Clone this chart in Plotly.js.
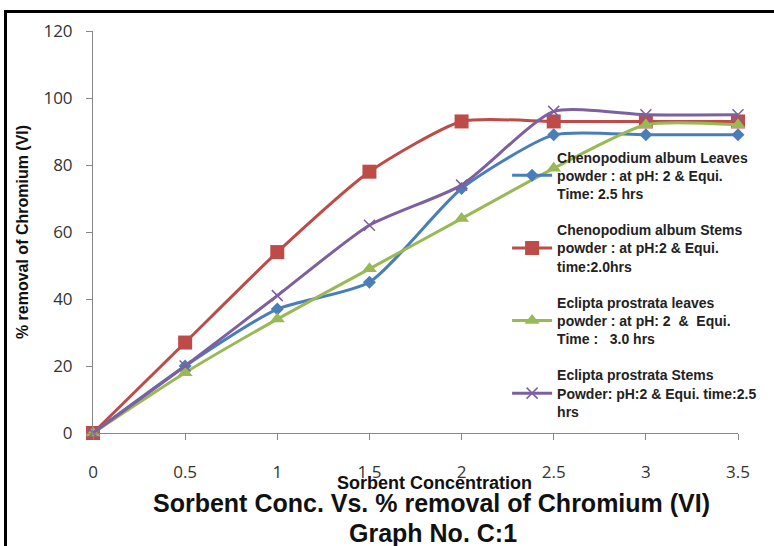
<!DOCTYPE html>
<html><head><meta charset="utf-8">
<script src="https://cdn.plot.ly/plotly-3.0.1.min.js"></script>
<style>
html,body{margin:0;padding:0;background:#fff;}
#chart{width:774px;height:546px;position:relative;}
#frame{position:absolute;left:4px;top:10px;width:820px;height:600px;border:3px solid #000;pointer-events:none;box-sizing:border-box;}
</style></head>
<body>
<div id="chart"></div>
<div id="frame"></div>
<script>
const conc = [0, 0.5, 1, 1.5, 2, 2.5, 3, 3.5];
const xTicks = ['0', '0.5', '1', '1.5', '2', '2.5', '3', '3.5'];
const leavesCA = [0, 20, 37, 45, 73, 89, 89, 89];
const stemsCA  = [0, 27, 54, 78, 93, 93, 93, 93];
const leavesEP = [0, 18, 34, 49, 64, 79, 92, 92];
const stemsEP  = [0, 20, 41, 62, 74, 96, 95, 95];
const names = [
  'Chenopodium album Leaves<br>powder : at pH: 2 &amp; Equi.<br>Time: 2.5 hrs',
  'Chenopodium album Stems<br>powder : at pH:2 &amp; Equi.<br>time:2.0hrs',
  'Eclipta prostrata leaves<br>powder : at pH: 2  &amp;  Equi.<br>Time :   3.0 hrs',
  'Eclipta prostrata Stems<br>Powder: pH:2 &amp; Equi. time:2.5<br>hrs'
];
const series = [leavesCA, stemsCA, leavesEP, stemsEP];
const colors = ['#4A7EBB', '#BE4B48', '#98B954', '#7D60A0'];
const symbols = ['diamond', 'square', 'triangle-up', 'x-thin-open'];
const sizes = [10, 14, 13, 11];

const traces = series.map((s, i) => ({
  x: conc, y: s, name: names[i], type: 'scatter', mode: 'lines+markers',
  line: {color: colors[i], width: 3, shape: 'spline', smoothing: 0.6},
  marker: {symbol: symbols[i], size: sizes[i], color: colors[i], line: {color: colors[i], width: i === 3 ? 1.5 : 0}},
  cliponaxis: false, legendgroup: 'g' + i
}));

const tickFont = {family: 'Open Sans, Liberation Sans Narrow, sans-serif', size: 17, color: '#333'};
const layout = {
  width: 774, height: 546,
  margin: {l: 93, r: 34, t: 31, b: 113},
  paper_bgcolor: '#fff', plot_bgcolor: '#fff',
  showlegend: true,
  legend: {x: 0.642, y: 0.725, xanchor: 'left', yanchor: 'top', bgcolor: 'rgba(0,0,0,0)',
    font: {family: 'Liberation Sans, Arial, sans-serif', size: 14, color: '#222', weight: 'bold'},
    traceorder: 'grouped', tracegroupgap: 15, itemwidth: 40},
  xaxis: {range: [0, 3.5], tickvals: conc, ticktext: xTicks, showgrid: false, zeroline: false,
    showline: true, linecolor: '#888', linewidth: 1, ticks: 'outside', ticklen: 6, tickcolor: '#888',
    tickfont: tickFont, ticklabelstandoff: 18},
  yaxis: {range: [0, 120], dtick: 20, showgrid: false, zeroline: false,
    showline: true, linecolor: '#888', linewidth: 1, ticks: 'outside', ticklen: 6, tickcolor: '#888',
    tickfont: tickFont, ticklabelstandoff: 10,
    title: {text: '% removal of Chromium (VI)', font: {family: 'Liberation Sans, Arial, sans-serif', size: 16, color: '#111', weight: 'bold'}, standoff: 10}},
  annotations: [
    {text: 'Sorbent Concentration', xref: 'paper', yref: 'paper', x: 0.53, y: (433 - 483) / 402, xanchor: 'center', yanchor: 'middle', showarrow: false,
      font: {family: 'Liberation Sans Narrow, Arial Narrow, sans-serif', size: 18, color: '#111', weight: 'bold'}},
    {text: 'Sorbent Conc. Vs. % removal of Chromium (VI)', xref: 'paper', yref: 'paper', x: (433 - 93) / 647, y: (433 - 503) / 402, xanchor: 'center', yanchor: 'middle', showarrow: false,
      font: {family: 'Liberation Sans, Arial, sans-serif', size: 25, color: '#111', weight: 'bold'}},
    {text: 'Graph No. C:1', xref: 'paper', yref: 'paper', x: (434 - 93) / 647, y: (433 - 533) / 402, xanchor: 'center', yanchor: 'middle', showarrow: false,
      font: {family: 'Liberation Sans, Arial, sans-serif', size: 25, color: '#111', weight: 'bold'}}
  ]
};
Plotly.newPlot('chart', traces, layout, {displayModeBar: false, staticPlot: true});
</script>
</body></html>
